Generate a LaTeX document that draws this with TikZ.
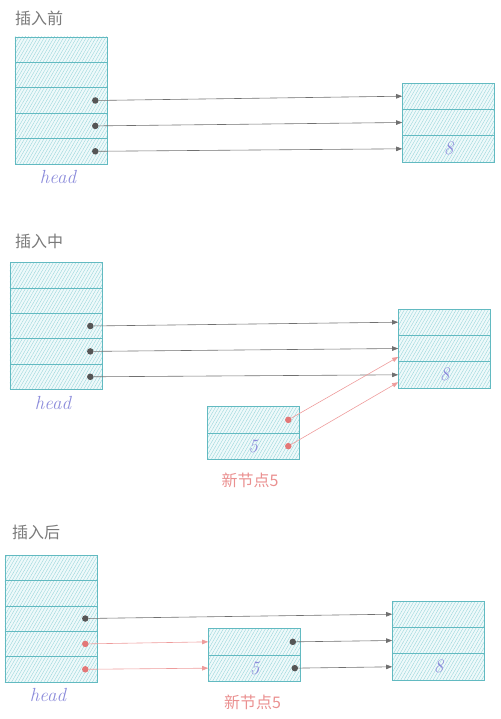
\documentclass[tikz,border=0pt]{standalone}
\usepackage{fontspec}
\newfontfamily\cjk{Noto Sans CJK SC}
\usepackage{tikz}
\usetikzlibrary{matrix}
\usetikzlibrary{arrows.meta}
\usetikzlibrary{patterns.meta}
\usetikzlibrary{positioning}
\definecolor{boxline}{HTML}{62BAC1}
\definecolor{boxfill}{HTML}{EEF9FA}
\definecolor{hatch}{HTML}{93D4D9}
\definecolor{ink}{HTML}{8C8CDB}
\definecolor{titlegray}{HTML}{7A7A7A}
\definecolor{dotgray}{HTML}{555555}
\definecolor{linegray}{HTML}{707070}
\definecolor{reddot}{HTML}{E37777}
\definecolor{redline}{HTML}{EE9C9C}
\definecolor{labelred}{HTML}{EA9090}

\begin{document}
\begin{tikzpicture}[x=1pt,y=-1pt,
		cell/.style={draw=boxline,line width=0.6pt,minimum width=92pt,minimum height=25.4pt,inner sep=0pt,
			preaction={fill=boxfill},pattern={Lines[angle=60,distance=2.8pt,line width=0.35pt]},pattern color=hatch,
			font=\itshape\fontsize{19}{19}\selectfont,text=ink},
		stack/.style={matrix of nodes,nodes in empty cells,nodes={cell},row sep=-0.6pt,inner sep=0pt},
		tall/.style={stack,nodes={minimum height=26.3pt}},
		dot/.style={circle,fill=dotgray,inner sep=0pt,minimum size=6.5pt},
		newdot/.style={dot,fill=reddot},
		link/.style={draw=linegray,line width=0.6pt,-{Triangle[length=6pt,width=4.5pt]}},
		newlink/.style={link,draw=redline},
		title/.style={font=\cjk\fontsize{16}{16}\selectfont,text=titlegray,anchor=west,inner sep=0pt},
		headlabel/.style={font=\itshape\fontsize{19}{19}\selectfont,text=ink,inner sep=0pt},
		newlabel/.style={font=\cjk\fontsize{16}{16}\selectfont,text=labelred,inner sep=0pt}]
		\useasboundingbox (0,0) rectangle (500,719);

		\node[title] (t1) at (15,18) {插入前};
		\matrix[stack] (h1) at (61,100.5) { \\ \\ \\ \\ \\ };
		\matrix[tall] (r1) at (448.5,122.5) { \\ \\ 8 \\ };
		\node[headlabel,below=6pt of h1-5-1.south,xshift=-3pt] (hd1) {head};
		\node[dot] (a1) at ([xshift=-12pt]h1-3-1.east) {};
		\node[dot] (a2) at ([xshift=-12pt]h1-4-1.east) {};
		\node[dot] (a3) at ([xshift=-12pt]h1-5-1.east) {};
		\draw[link] (a1) -- (r1-1-1.west);
		\draw[link] (a2) -- (r1-2-1.west);
		\draw[link] (a3) -- (r1-3-1.west);

		\node[title] (t2) at (15,241) {插入中};
		\matrix[stack] (h2) at (56,326) { \\ \\ \\ \\ \\ };
		\matrix[tall] (r2) at (444.5,348.5) { \\ \\ 8 \\ };
		\matrix[tall] (n2) at (253,433) { \\ 5 \\ };
		\node[headlabel,below=6pt of h2-5-1.south,xshift=-3pt] (hd2) {head};
		\node[newlabel,below=13pt of n2-2-1.south,xshift=-3pt] (nl2) {新节点5};
		\node[dot] (b1) at ([xshift=-12pt]h2-3-1.east) {};
		\node[dot] (b2) at ([xshift=-12pt]h2-4-1.east) {};
		\node[dot] (b3) at ([xshift=-12pt]h2-5-1.east) {};
		\node[newdot] (b4) at ([xshift=-11pt]n2-1-1.east) {};
		\node[newdot] (b5) at ([xshift=-11pt]n2-2-1.east) {};
		\draw[link] (b1) -- (r2-1-1.west);
		\draw[link] (b2) -- (r2-2-1.west);
		\draw[link] (b3) -- (r2-3-1.west);
		\draw[newlink] (b4) -- ([yshift=5pt]r2-2-1.south west);
		\draw[newlink] (b5) -- ([yshift=6pt]r2-3-1.south west);

		\node[title] (t3) at (12,532) {插入后};
		\matrix[stack] (h3) at (51,618.5) { \\ \\ \\ \\ \\ };
		\matrix[tall] (n3) at (254.5,655) { \\ 5 \\ };
		\matrix[tall] (r3) at (438.5,640.5) { \\ \\ 8 \\ };
		\node[headlabel,below=6pt of h3-5-1.south,xshift=-3pt] (hd3) {head};
		\node[newlabel,below=13pt of n3-2-1.south,xshift=-2pt] (nl3) {新节点5};
		\node[dot] (c1) at ([xshift=-12pt]h3-3-1.east) {};
		\node[newdot] (c2) at ([xshift=-12pt]h3-4-1.east) {};
		\node[newdot] (c3) at ([xshift=-12pt]h3-5-1.east) {};
		\node[dot] (c4) at ([xshift=-8pt]n3-1-1.east) {};
		\node[dot] (c5) at ([xshift=-6pt]n3-2-1.east) {};
		\draw[link] (c1) -- (r3-1-1.west);
		\draw[newlink] (c2) -- (n3-1-1.west);
		\draw[newlink] (c3) -- (n3-2-1.west);
		\draw[link] (c4) -- (r3-2-1.west);
		\draw[link] (c5) -- (r3-3-1.west);
\end{tikzpicture}
\end{document}
